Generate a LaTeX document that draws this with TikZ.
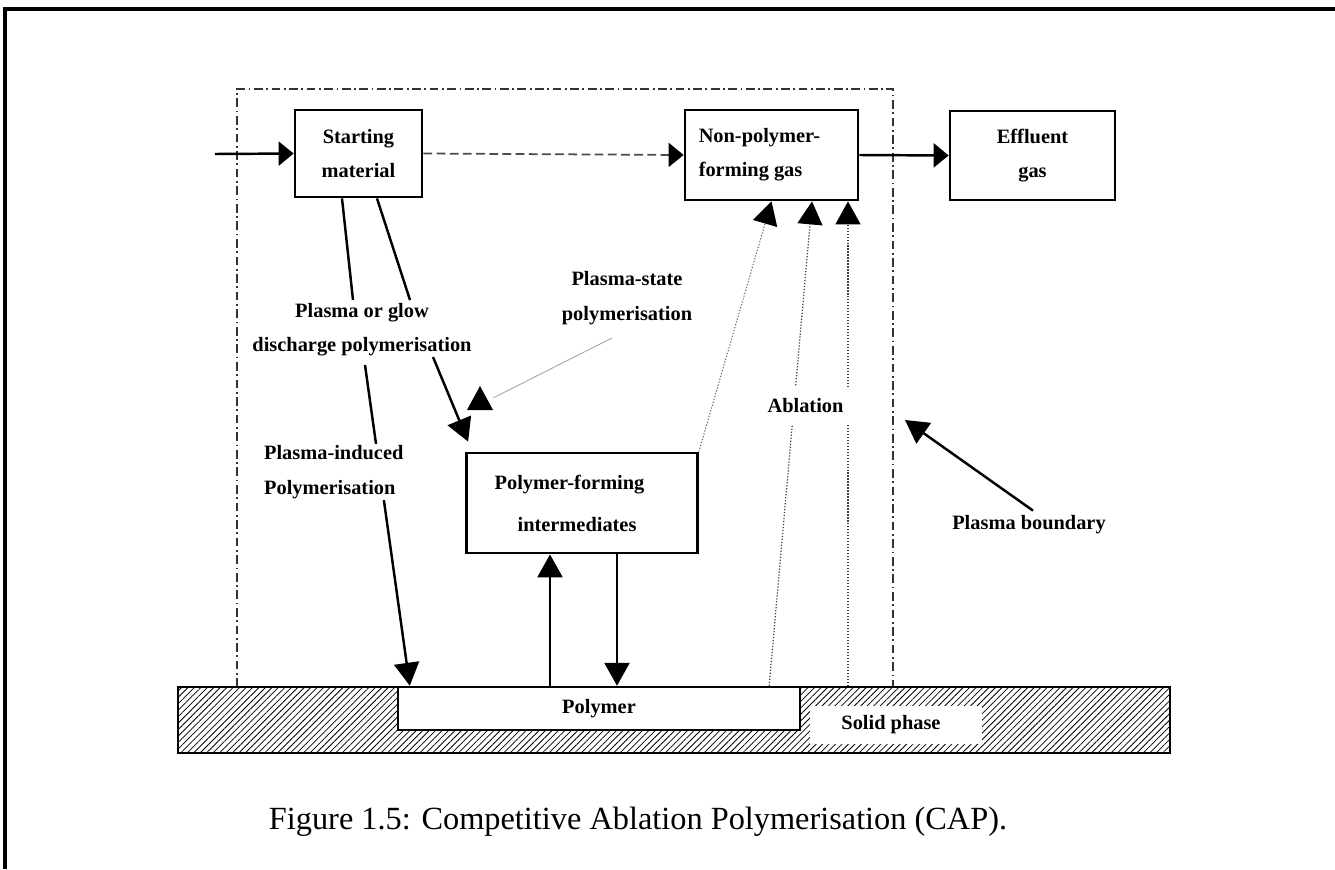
\documentclass[tikz,border=0pt]{standalone}
\usepackage{fontspec}
\setmainfont{Liberation Serif}
\usetikzlibrary{arrows.meta,calc,patterns.meta}
\begin{document}
\begin{tikzpicture}[x=0.02cm,y=-0.02cm,
  lbl/.style={font=\bfseries\fontsize{11.6}{19.5}\selectfont, inner sep=1pt},
  box/.style={draw, line width=1.6pt, lbl, align=center},
  conn/.style={line width=1.4pt, -{Triangle[length=0.46cm,width=0.5cm]}},
  connshort/.style={line width=1.4pt, -{Triangle[length=0.3cm,width=0.48cm]}},
  plain/.style={line width=1.4pt},
  dashedarr/.style={line width=1pt, draw=black!70, dash pattern=on 5pt off 2.5pt, -{Triangle[length=0.3cm,width=0.48cm,color=black]}},
  grayline/.style={line width=0.5pt, draw=black!35},
  dotline/.style={line width=0.6pt, draw=black!60, dash pattern=on 0.7pt off 1pt, -{Triangle[length=0.46cm,width=0.5cm,color=black]}},
  abline/.style={line width=0.7pt, draw=black!75, dash pattern=on 0.7pt off 1pt, -{Triangle[length=0.46cm,width=0.5cm,color=black]}},
  boundary/.style={line width=0.6pt, draw=black!80, dash pattern=on 5pt off 2pt on 1pt off 2pt},
]
\useasboundingbox (0,0) rectangle (1335,869);
\fill[white] (0,0) rectangle (1335,869);
% outer frame
\draw[line width=1.8pt] (5,869) -- (5,9) -- (1335,9);
% plasma boundary
\draw[boundary] (237,687) -- (237,89) -- (893,89) -- (893,687);
% solid phase
\fill[pattern={Lines[angle=45,distance=2.6pt,line width=0.45pt]}] (178,687) rectangle (1170,753);
\draw[line width=1.6pt] (178,687) rectangle (1170,753);
\node[draw, line width=1.4pt, fill=white, minimum width=8.04cm, minimum height=0.86cm, lbl, inner sep=0pt] (poly) at (599,708.5) {Polymer};
\node[fill=white, lbl, minimum height=0.76cm, minimum width=3.45cm] (sp) at (896,725) {\hspace*{-0.2cm}Solid phase};
% boxes
\node[box, minimum width=2.54cm, minimum height=1.74cm] (sm) at (358.5,153.5) {Starting\\material};
\node[box, minimum width=3.46cm, minimum height=1.8cm, align=left] (np) at (771.5,155) {Non-polymer-\hspace*{0.48cm}\\forming gas};
\node[box, minimum width=3.3cm, minimum height=1.78cm] (eg) at (1032.5,155.5) {Effluent\\gas};
\node[box, minimum width=4.62cm, minimum height=2.0cm, align=left] (pfi) at (582,503) {Polymer-forming\hspace*{0.5cm}\\[4.5pt]\hspace*{0.46cm}intermediates};
% labels
\node[lbl, align=center] (pgd) at (362,330) {Plasma or glow\\discharge polymerisation};
\node[lbl, align=center] (psp) at (627,298) {Plasma-state\\polymerisation};
\node[lbl] (pb) at (1029,525) {Plasma boundary};
% coordinates
\coordinate (in) at (215,154);
\coordinate (s1) at ($(sm.south)+(-16.5,0)$);
\coordinate (s2) at ($(sm.south)+(18.5,0)$);
\coordinate (l1) at (353,300);
\coordinate (l2) at (410,300);
\coordinate (l3) at (365,365);
\coordinate (l4) at (433,357);
\coordinate (up) at ($(pfi.south)+(-32,0)$);
\coordinate (dn) at ($(pfi.south)+(35,0)$);
\coordinate (pstart) at (612,338);
\coordinate (pend) at (493,398);
\coordinate (a1) at ($(np.south)+(40.5,0)$);
\coordinate (a2) at ($(np.south)+(76.5,0)$);
\coordinate (pbtip) at (905,420);
% connectors
\draw[connshort] (in) -- (sm.west);
\draw[dashedarr] (sm.east) -- (np.west);
\draw[connshort] (np.east) -- (eg.west);
\draw[plain] (s1) -- (l1);
\draw[plain] (s2) -- (l2);
\draw[conn] (l3) -- ($(poly.north west)+(13,0)$);
\draw[conn] (l4) -- ($(pfi.north west)+(3,-10)$);
\draw[conn] (poly.north -| up) -- (up);
\draw[conn] (dn) -- (poly.north -| dn);
\draw[grayline] (pstart) -- (pend);
\fill (467,410) -- (480,386) -- (493,410) -- cycle;
\draw[dotline] (pfi.north east) -- (np.south);
\draw[abline] ($(poly.north east)+(-32,0)$) -- (a1);
\draw[abline] (poly.north -| a2) -- (a2);
\draw[conn] (pb.north) ++(4,-3) -- (pbtip);
% labels on top of lines
\node[lbl, align=left, fill=white, anchor=west] (pip) at (262,472) {Plasma-induced\\Polymerisation};
\node[lbl, fill=white, minimum width=1.9cm, minimum height=0.76cm] (abl) at (808,406) {\hspace*{-0.1cm}Ablation};
% caption
\node[font=\fontsize{18.4}{22}\selectfont, inner sep=0pt] (cap) at (638,822) {Figure 1.5: Competitive Ablation Polymerisation (CAP).};
\end{tikzpicture}
\end{document}
